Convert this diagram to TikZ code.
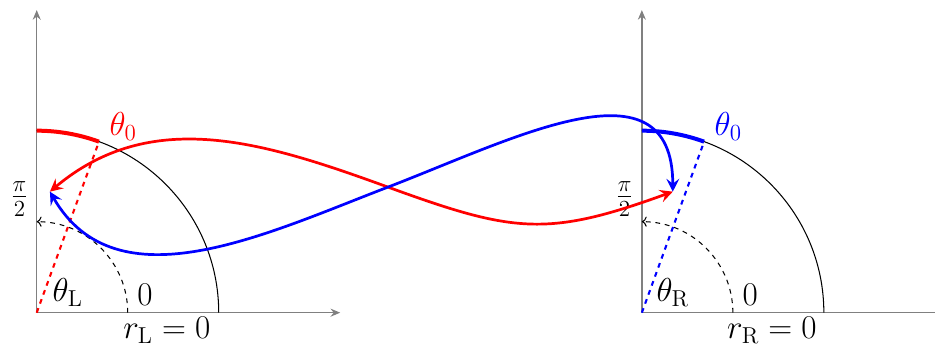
\documentclass[tikz,border=0pt]{standalone}
\usetikzlibrary{arrows.meta}

\begin{document}
\begin{tikzpicture}[font=\fontsize{19.5}{23}\selectfont,
    axis/.style={gray,line width=0.9pt,-{Stealth[length=6pt,width=5pt]}},
    curve/.style={line width=1.7pt,
      {Stealth[length=8pt,width=8pt,inset=3pt]}-{Stealth[length=8pt,width=8pt,inset=3pt]}}]
  \clip (-0.807,-0.732) rectangle (19.743,6.872);
  \foreach \ox/\sub/\col in {0/L/red, 13.3/R/blue}{
    \begin{scope}[xshift=\ox cm]
      \draw[axis] (0,0) -- (6.67,0);
      \draw[axis] (0,0) -- (0,6.65);
      \draw[line width=0.65pt] (4,0) arc[start angle=0,end angle=90,radius=4];
      \draw[dashed,line width=0.65pt,->] (2,0) arc[start angle=0,end angle=90,radius=2];
      \draw[\col,line width=2.5pt] (0,4) arc[start angle=90,end angle=70,radius=4];
      \draw[\col,dashed,line width=1.3pt] (0,0) -- (70:4);
      \node[\col] (th0\sub) at (1.9,4.1) {$\theta_0$};
      \node (th\sub) at (0.68,0.45) {$\theta_{\mathrm{\sub}}$};
      \node (zero\sub) at (2.38,0.39) {$0$};
      \node (r\sub) at (2.86,-0.38) {$r_{\mathrm{\sub}} = 0$};
      \node (half\sub) at (-0.38,2.5) {$\frac{\pi}{2}$};
    \end{scope}
  }
  \coordinate (tipL) at (0.29,2.66);
  \coordinate (tipR) at (13.98,2.66);
  \coordinate (cross) at (7.72,2.76);
  \draw[red,curve] (tipL) to[out=40,in=160] (cross)
    to[out=-20,in=200,looseness=1.2] (tipR);
  \draw[blue,curve] (tipL) to[out=-60,in=201] (cross)
    to[out=21,in=90,looseness=1.22] (tipR);
\end{tikzpicture}
\end{document}
